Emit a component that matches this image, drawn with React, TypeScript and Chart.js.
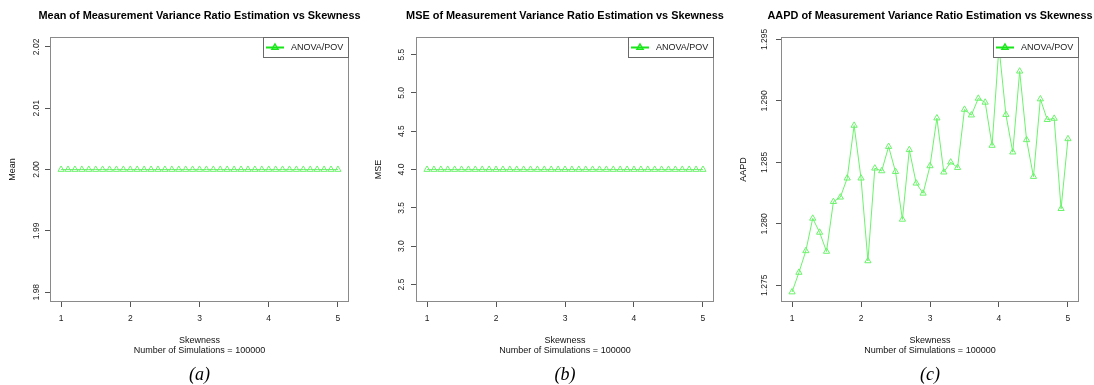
import React, { useEffect, useRef } from "react";
import { Chart, registerables } from "chart.js";

Chart.register(...registerables);

// ---------- data ----------
const skewness = [
  1.0, 1.1, 1.2, 1.3, 1.4, 1.5, 1.6, 1.7, 1.8, 1.9,
  2.0, 2.1, 2.2, 2.3, 2.4, 2.5, 2.6, 2.7, 2.8, 2.9,
  3.0, 3.1, 3.2, 3.3, 3.4, 3.5, 3.6, 3.7, 3.8, 3.9,
  4.0, 4.1, 4.2, 4.3, 4.4, 4.5, 4.6, 4.7, 4.8, 4.9,
  5.0,
];

const meanValues = [
  2.0, 2.0, 2.0, 2.0, 2.0, 2.0, 2.0, 2.0, 2.0, 2.0,
  2.0, 2.0, 2.0, 2.0, 2.0, 2.0, 2.0, 2.0, 2.0, 2.0,
  2.0, 2.0, 2.0, 2.0, 2.0, 2.0, 2.0, 2.0, 2.0, 2.0,
  2.0, 2.0, 2.0, 2.0, 2.0, 2.0, 2.0, 2.0, 2.0, 2.0,
  2.0,
];

const mseValues = [
  4.0, 4.0, 4.0, 4.0, 4.0, 4.0, 4.0, 4.0, 4.0, 4.0,
  4.0, 4.0, 4.0, 4.0, 4.0, 4.0, 4.0, 4.0, 4.0, 4.0,
  4.0, 4.0, 4.0, 4.0, 4.0, 4.0, 4.0, 4.0, 4.0, 4.0,
  4.0, 4.0, 4.0, 4.0, 4.0, 4.0, 4.0, 4.0, 4.0, 4.0,
  4.0,
];

const aapdValues = [
  1.27445, 1.27604, 1.2778, 1.28044, 1.2793, 1.27775, 1.2818, 1.28216, 1.28371, 1.288,
  1.28371, 1.27698, 1.28452, 1.2843, 1.28628, 1.28424, 1.28036, 1.28602, 1.2833, 1.28248,
  1.28471, 1.2886, 1.2842, 1.28501, 1.28457, 1.2893, 1.28884, 1.2902, 1.28988, 1.28637,
  1.2944, 1.28888, 1.28583, 1.29241, 1.28683, 1.28384, 1.29015, 1.28847, 1.28857, 1.28123,
  1.28691,
];

const panelTitles = [
  "Mean of Measurement Variance Ratio Estimation vs Skewness",
  "MSE of Measurement Variance Ratio Estimation vs Skewness",
  "AAPD of Measurement Variance Ratio Estimation vs Skewness",
];
const yAxisTitles = ["Mean", "MSE", "AAPD"];
const xAxisTitle = ["Skewness", "Number of Simulations = 100000"];
const panelLabels = ["(a)", "(b)", "(c)"];
const seriesLabel = "ANOVA/POV";
const xTickValues = [1, 2, 3, 4, 5];

// ---------- styling ----------
const SANS = '"Liberation Sans", Arial, Helvetica, sans-serif';
const SERIF = '"Liberation Serif", "Times New Roman", serif';
const LINE_GREEN = "#6cf36c";
const LEGEND_GREEN = "#19e619";
const CANVAS_H = 385;
const TICK_FONT = 8.5;
const Y_AXIS_W = 50;

const boxPlugin = {
  id: "rBox",
  beforeDatasetsDraw(chart: any) {
    const { ctx, chartArea } = chart;
    ctx.save();
    ctx.strokeStyle = "#8a8a8a";
    ctx.lineWidth = 1;
    ctx.strokeRect(
      Math.round(chartArea.left) + 0.5,
      Math.round(chartArea.top) + 0.5,
      Math.round(chartArea.right - chartArea.left) - 1,
      Math.round(chartArea.bottom - chartArea.top) - 1
    );
    ctx.restore();
  },
};

const legendPlugin = {
  id: "rLegend",
  afterDatasetsDraw(chart: any) {
    const { ctx, chartArea } = chart;
    const ds = chart.data.datasets[0];
    const w = 86;
    const h = 20;
    const x = Math.round(chartArea.right) - w;
    const y = Math.round(chartArea.top);
    ctx.save();
    ctx.fillStyle = "#ffffff";
    ctx.fillRect(x, y, w, h);
    ctx.strokeStyle = "#6a6a6a";
    ctx.lineWidth = 1;
    ctx.strokeRect(x + 0.5, y + 0.5, w - 1, h);
    const cy = y + h / 2 + 0.5;
    ctx.strokeStyle = LEGEND_GREEN;
    ctx.lineWidth = 2;
    ctx.beginPath();
    ctx.moveTo(x + 3, cy);
    ctx.lineTo(x + 21, cy);
    ctx.stroke();
    const tx = x + 12;
    const r = 3.5;
    ctx.lineWidth = 1.5;
    ctx.beginPath();
    ctx.moveTo(tx, cy - r);
    ctx.lineTo(tx + r * 0.866, cy + r / 2);
    ctx.lineTo(tx - r * 0.866, cy + r / 2);
    ctx.closePath();
    ctx.stroke();
    ctx.fillStyle = "#1a1a1a";
    ctx.font = `9px ${SANS}`;
    ctx.textBaseline = "middle";
    ctx.textAlign = "left";
    ctx.fillText(ds.label, x + 28, cy);
    ctx.restore();
  },
};

type PanelProps = {
  left: number;
  plotWidth: number;
  title: string;
  yTitle: string;
  label: string;
  values: number[];
  yMin: number;
  yMax: number;
  yStep: number;
  decimals: number;
  yPad: number;
};

function Panel(p: PanelProps) {
  const ref = useRef<HTMLCanvasElement | null>(null);
  // canvas symmetric around the plot box so the full-width title centres over it
  const width = Y_AXIS_W * 2 + p.plotWidth;

  useEffect(() => {
    if (!ref.current) return;
    const points = skewness.map((s, i) => ({ x: s, y: p.values[i] }));
    const chart = new Chart(ref.current, {
      type: "line",
      data: {
        datasets: [
          {
            label: seriesLabel,
            data: points,
            borderColor: LINE_GREEN,
            borderWidth: 1,
            backgroundColor: "rgba(0,0,0,0)",
            pointStyle: "triangle",
            pointRadius: 3.6,
            pointBorderWidth: 1,
            pointBorderColor: LINE_GREEN,
            pointBackgroundColor: "rgba(0,0,0,0)",
            tension: 0,
            fill: false,
          },
        ],
      },
      options: {
        animation: false,
        responsive: false,
        events: [],
        layout: { padding: 0 },
        plugins: {
          legend: { display: false },
          tooltip: { enabled: false },
          title: {
            display: true,
            text: p.title,
            fullSize: true,
            color: "#000",
            font: { family: SANS, size: 10.9, weight: "bold", lineHeight: 1.2 },
            padding: { top: 9, bottom: 15 },
          },
          subtitle: {
            display: true,
            text: p.label,
            position: "bottom",
            fullSize: false,
            color: "#000",
            font: { family: SERIF, size: 18, style: "italic", lineHeight: 20.4 / 18 },
            padding: { top: 0, bottom: 0 },
          },
        },
        scales: {
          x: {
            type: "linear",
            min: 0.84,
            max: 5.16,
            border: { display: false },
            grid: { drawOnChartArea: false, drawTicks: true, tickLength: 5, color: "#555" },
            afterBuildTicks: (scale: any) => {
              scale.ticks = xTickValues.map((v) => ({ value: v }));
            },
            ticks: {
              color: "#222",
              font: { family: SANS, size: TICK_FONT, lineHeight: 1.2 },
              padding: 7,
              maxRotation: 0,
              autoSkip: false,
              callback: (v: any) => String(v),
            },
            title: {
              display: true,
              text: xAxisTitle,
              color: "#111",
              font: { family: SANS, size: 9, lineHeight: 10 / 9 },
              padding: { top: 0, bottom: 8.6 },
            },
            afterFit: (scale: any) => {
              scale.height = 62.6;
            },
          },
          y: {
            type: "linear",
            min: p.yMin,
            max: p.yMax,
            border: { display: false },
            grid: { drawOnChartArea: false, drawTicks: true, tickLength: 5, color: "#555" },
            ticks: {
              stepSize: p.yStep,
              includeBounds: false,
              color: "#222",
              font: { family: SANS, size: TICK_FONT, lineHeight: 1.2 },
              minRotation: 90,
              maxRotation: 90,
              crossAlign: "center",
              padding: p.yPad,
              autoSkip: false,
              callback: (v: any) => Number(v).toFixed(p.decimals),
            },
            title: {
              display: true,
              text: p.yTitle,
              color: "#111",
              font: { family: SANS, size: 9, lineHeight: 10 / 9 },
              padding: { top: 8, bottom: 0 },
            },
            afterFit: (scale: any) => {
              scale.width = Y_AXIS_W;
            },
          },
          // empty right-hand margin scale, keeps the plot box centred in the canvas
          yRightMargin: {
            type: "linear",
            position: "right",
            display: true,
            min: p.yMin,
            max: p.yMax,
            border: { display: false },
            grid: { display: false, drawTicks: false },
            ticks: { display: false },
            title: { display: false },
            afterFit: (scale: any) => {
              scale.width = Y_AXIS_W;
            },
          },
        },
      } as any,
      plugins: [boxPlugin, legendPlugin],
    });
    return () => chart.destroy();
  }, []);

  return (
    <canvas
      ref={ref}
      width={width}
      height={CANVAS_H}
      style={{ position: "absolute", left: p.left, top: 0, width, height: CANVAS_H }}
    />
  );
}

export default function App() {
  return (
    <div
      style={{
        position: "fixed",
        left: 0,
        top: 0,
        width: 1094,
        height: 385,
        background: "#fff",
        overflow: "hidden",
      }}
    >
      <Panel
        left={0}
        plotWidth={299}
        title={panelTitles[0]}
        yTitle={yAxisTitles[0]}
        label={panelLabels[0]}
        values={meanValues}
        yMin={1.9784}
        yMax={2.0216}
        yStep={0.01}
        decimals={2}
        yPad={-0.3}
      />
      <Panel
        left={366}
        plotWidth={298}
        title={panelTitles[1]}
        yTitle={yAxisTitles[1]}
        label={panelLabels[1]}
        values={mseValues}
        yMin={2.272}
        yMax={5.728}
        yStep={0.5}
        decimals={1}
        yPad={3.1}
      />
      <Panel
        left={731}
        plotWidth={298}
        title={panelTitles[2]}
        yTitle={yAxisTitles[2]}
        label={panelLabels[2]}
        values={aapdValues}
        yMin={1.27364}
        yMax={1.29519}
        yStep={0.005}
        decimals={3}
        yPad={0.9}
      />
    </div>
  );
}
